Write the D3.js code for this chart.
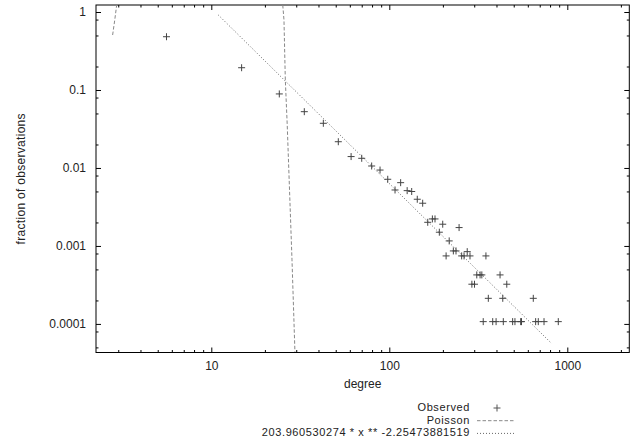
<!DOCTYPE html>
<html>
<head>
<meta charset="utf-8">
<script src="https://cdn.jsdelivr.net/npm/d3@7"></script>
<style>
  body { margin: 0; background: #fff; }
  svg { display: block; font-family: "Liberation Sans", Arial, sans-serif; }
  .axis path { display: none; }
  .axis line { stroke: #000; }
  .axis text { fill: #222; font-size: 12px; }
</style>
</head>
<body>
<svg width="636" height="448"></svg>
<script>
// Observed degree distribution: [degree, fraction]
const observed = [
  [5.6, 0.482], [14.8, 0.193], [24.1, 0.089], [33.3, 0.0527], [42.6, 0.0374],
  [51.7, 0.0217], [61, 0.014], [70, 0.0133], [79.6, 0.0106], [88.7, 0.0094],
  [98, 0.00716], [107.7, 0.00522], [115.8, 0.00648], [126, 0.00512], [133.6, 0.00499],
  [143.6, 0.00397], [154, 0.00353], [164.4, 0.00201], [174.6, 0.00222], [180.6, 0.00222],
  [191, 0.0015], [199.6, 0.0019], [208.5, 0.000745], [217, 0.00116], [229, 0.000863],
  [237, 0.000863], [246.6, 0.00172], [255, 0.000745], [263, 0.000745], [274, 0.000845],
  [284, 0.000745], [291, 0.000323], [301, 0.000323], [310, 0.000425], [323.6, 0.000425],
  [331, 0.000425], [337, 0.000107], [349, 0.000745], [360, 0.000213], [381, 0.000107],
  [398, 0.000107], [419, 0.000425], [434, 0.000213], [437, 0.000107], [457, 0.000323],
  [493, 0.000107], [508, 0.000107], [547, 0.000107], [553, 0.000107], [644, 0.000213],
  [664, 0.000107], [687, 0.000107], [740, 0.000107], [890, 0.000107]
];

// Poisson curve, two visible pieces
const poissonLow = [[2.79, 0.507], [2.87, 0.8], [2.94, 1.23]];
const poissonHigh = [
  [25.2, 1.23], [25.6, 0.79], [26.05, 0.134], [26.7, 0.0356],
  [28.4, 0.000662], [29.5, 0.0000438]
];

// Power law fit (straight in log-log)
const powerFit = [[10.95, 0.915], [817, 0.000056]];

const xMajor = [10, 100, 1000];
const xMinor = [3, 4, 5, 6, 7, 8, 9, 20, 30, 40, 50, 60, 70, 80, 90,
  200, 300, 400, 500, 600, 700, 800, 900, 2000];
const yMajor = [1, 0.1, 0.01, 0.001, 0.0001];
const yMinor = [0.8, 0.5, 0.2, 0.08, 0.05, 0.02, 0.008, 0.005, 0.002,
  0.0008, 0.0005, 0.0002, 0.00008, 0.00005];
const yLabels = ["1", "0.1", "0.01", "0.001", "0.0001"];

const legendLabels = ["Observed", "Poisson", "203.960530274 * x ** -2.25473881519"];

const svg = d3.select("svg");
const plotLeft = 96, plotRight = 629.3, plotTop = 5, plotBottom = 352.5;

const xScale = d3.scaleLog().domain([2.25, 2230]).range([plotLeft, plotRight]);
const yScale = d3.scaleLog().domain([1.23, 0.000043]).range([plotTop, plotBottom]);

// Clip for curves
svg.append("clipPath").attr("id", "plot-clip")
  .append("rect")
  .attr("x", plotLeft).attr("y", plotTop)
  .attr("width", plotRight - plotLeft).attr("height", plotBottom - plotTop);

function drawAxis(axisFn, values, size, transform, labels) {
  const axis = axisFn.tickValues(values).tickSizeInner(size).tickSizeOuter(0);
  if (labels) {
    axis.tickFormat((d, i) => labels[i]).tickPadding(size < 0 ? 10 : 4);
  } else {
    axis.tickFormat("");
  }
  svg.append("g")
    .attr("class", "axis")
    .attr("transform", transform)
    .call(axis);
}

// X axes (bottom with labels, top mirrored)
drawAxis(d3.axisBottom(xScale), xMajor, -5, "translate(0," + plotBottom + ")", xMajor.map(String));
drawAxis(d3.axisBottom(xScale), xMinor, -2.5, "translate(0," + plotBottom + ")");
drawAxis(d3.axisTop(xScale), xMajor, -5, "translate(0," + plotTop + ")");
drawAxis(d3.axisTop(xScale), xMinor, -2.5, "translate(0," + plotTop + ")");

// Y axes (left with labels, right mirrored)
drawAxis(d3.axisLeft(yScale), yMajor, -5, "translate(" + plotLeft + ",0)", yLabels);
drawAxis(d3.axisLeft(yScale), yMinor, -2.5, "translate(" + plotLeft + ",0)");
drawAxis(d3.axisRight(yScale), yMajor, -5, "translate(" + plotRight + ",0)");
drawAxis(d3.axisRight(yScale), yMinor, -2.5, "translate(" + plotRight + ",0)");

svg.selectAll(".axis text").attr("dy", null).attr("dominant-baseline", "middle");
svg.selectAll(".axis").filter((d, i) => i === 0).selectAll("text").attr("y", 14);

// Border
svg.append("rect")
  .attr("x", plotLeft).attr("y", plotTop)
  .attr("width", plotRight - plotLeft).attr("height", plotBottom - plotTop)
  .attr("fill", "none").attr("stroke", "#000").attr("stroke-width", 1);

// Axis titles
svg.append("text")
  .attr("x", (plotLeft + plotRight) / 2)
  .attr("y", 385)
  .attr("text-anchor", "middle")
  .attr("dominant-baseline", "middle")
  .style("font-size", "12px").style("fill", "#222")
  .text("degree");

svg.append("text")
  .attr("text-anchor", "middle")
  .attr("dominant-baseline", "middle")
  .attr("transform", "translate(22," + (plotTop + plotBottom) / 2 + ")rotate(-90)")
  .style("font-size", "12px").style("fill", "#222")
  .style("letter-spacing", "0.3px")
  .text("fraction of observations");

const line = d3.line()
  .x((d) => xScale(d[0]))
  .y((d) => yScale(d[1]));

const curves = svg.append("g").attr("clip-path", "url(#plot-clip)");

// Poisson (dashed)
[poissonLow, poissonHigh].forEach(function (seg) {
  curves.append("path")
    .datum(seg)
    .attr("d", line)
    .attr("fill", "none")
    .attr("stroke", "#888")
    .attr("stroke-width", 1)
    .attr("stroke-dasharray", "3.5,2");
});

// Power law fit (dotted)
curves.append("path")
  .datum(powerFit)
  .attr("d", line)
  .attr("fill", "none")
  .attr("stroke", "#666")
  .attr("stroke-width", 1)
  .attr("stroke-dasharray", "1,2");

const plus = "M-3.5,0H3.5M0,-3.5V3.5";

// Observed points
svg.append("g")
  .selectAll("path")
  .data(observed)
  .enter()
  .append("path")
  .attr("d", plus)
  .attr("transform", (d) => "translate(" + xScale(d[0]) + "," + yScale(d[1]) + ")")
  .attr("stroke", "#444")
  .attr("stroke-width", 1);

// Legend
const legendY = [408, 420.7, 433.4];
const legend = svg.append("g");
legend.selectAll("text")
  .data(legendLabels)
  .enter()
  .append("text")
  .attr("x", 470)
  .attr("y", (d, i) => legendY[i])
  .attr("text-anchor", "end")
  .attr("dominant-baseline", "middle")
  .style("font-size", "11px").style("fill", "#222")
  .style("letter-spacing", "0.6px")
  .text((d) => d);

legend.append("path")
  .attr("d", plus)
  .attr("transform", "translate(497," + legendY[0] + ")")
  .attr("stroke", "#555");
legend.append("line")
  .attr("x1", 477).attr("x2", 514)
  .attr("y1", legendY[1]).attr("y2", legendY[1])
  .attr("stroke", "#888").attr("stroke-dasharray", "3.5,2");
legend.append("line")
  .attr("x1", 477).attr("x2", 514)
  .attr("y1", legendY[2]).attr("y2", legendY[2])
  .attr("stroke", "#666").attr("stroke-dasharray", "1,2");
</script>
</body>
</html>
